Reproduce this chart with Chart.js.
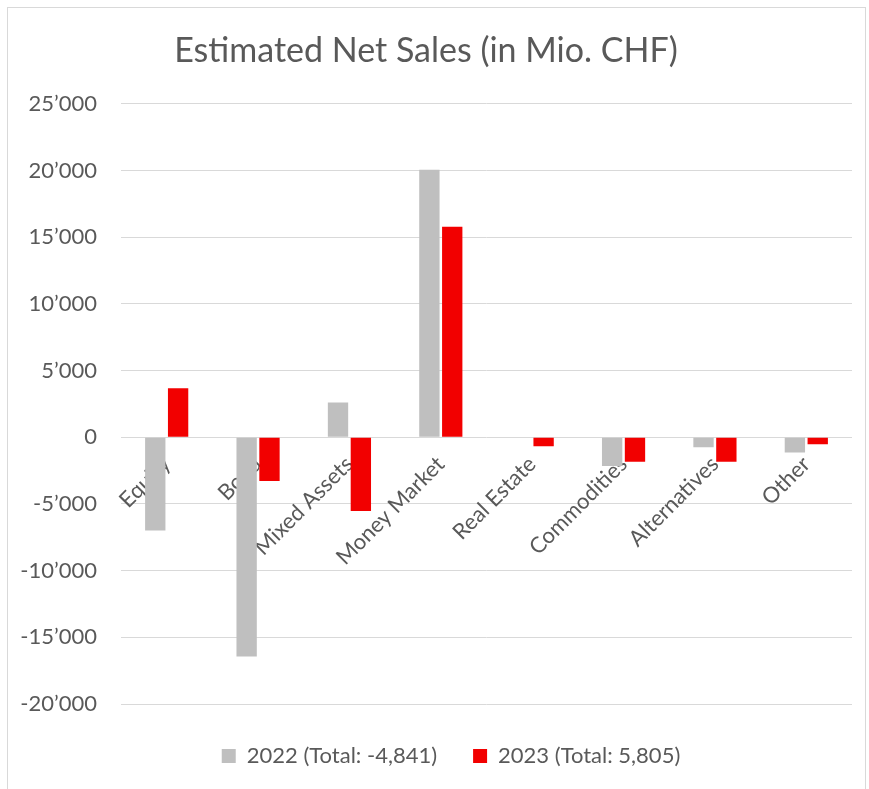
<!DOCTYPE html>
<html>
<head>
<meta charset="utf-8">
<script src="https://cdn.jsdelivr.net/npm/chart.js@4.4.0/dist/chart.umd.min.js"></script>
<style>
  html, body { margin: 0; padding: 0; background: #fff; }
  #wrap { width: 869px; height: 789px; }
</style>
</head>
<body>
<div id="wrap"><canvas id="salesChart" width="869" height="789"></canvas></div>
<script>
const categories = ['Equity', 'Bond', 'Mixed Assets', 'Money Market', 'Real Estate', 'Commodities', 'Alternatives', 'Other'];
const sales2022 = [-7000, -16440, 2600, 20050, 0, -2150, -750, -1150];
const sales2023 = [3680, -3280, -5530, 15790, -675, -1830, -1830, -525];
const seriesLabels = ['2022 (Total: -4,841)', '2023 (Total: 5,805)'];
const yTicks = [-20000, -15000, -10000, -5000, 0, 5000, 10000, 15000, 20000, 25000];

const textColor = '#595959';
const fontFamily = 'Lato, "Open Sans", sans-serif';

// swiss style thousands separator: 25’000
function fmt(v) {
  const s = Math.abs(v).toString().replace(/\B(?=(\d{3})+(?!\d))/g, '\u2019');
  return (v < 0 ? '-' : '') + s;
}

const frame = {
  id: 'frame',
  afterLayout(chart) {
    // nudge the legend to where excel puts it
    const lg = chart.legend;
    lg.left += 25;
    lg.right += 25;
    lg.top += 5;
    lg.bottom += 5;
  },
  beforeDraw(chart) {
    const ctx = chart.ctx;
    ctx.save();
    ctx.fillStyle = '#fff';
    ctx.fillRect(0, 0, chart.width, chart.height);
    ctx.strokeStyle = '#d9d9d9';
    ctx.lineWidth = 1;
    ctx.strokeRect(7.5, 7.5, 858, 800);
    ctx.restore();
  }
};

const ctx = document.getElementById('salesChart').getContext('2d');
new Chart(ctx, {
  type: 'bar',
  data: {
    labels: categories,
    datasets: [
      { label: seriesLabels[0], data: sales2022, backgroundColor: '#bfbfbf' },
      { label: seriesLabels[1], data: sales2023, backgroundColor: '#f20000' }
    ]
  },
  options: {
    responsive: false,
    animation: false,
    categoryPercentage: 0.5,
    barPercentage: 0.89,
    layout: { padding: { left: 0, right: 17, top: 0, bottom: 17 } },
    plugins: {
      title: {
        display: true,
        text: 'Estimated Net Sales (in Mio. CHF)',
        color: textColor,
        font: { family: fontFamily, size: 34, weight: 'normal' },
        padding: { top: 31, bottom: 32 }
      },
      legend: {
        position: 'bottom',
        labels: {
          color: textColor,
          font: { family: fontFamily, size: 22 },
          boxWidth: 14,
          boxHeight: 14,
          padding: 36
        }
      },
      tooltip: { enabled: false }
    },
    scales: {
      x: {
        position: { y: 0 },
        grid: { display: false },
        border: { display: false },
        ticks: {
          color: textColor,
          font: { family: fontFamily, size: 22 },
          minRotation: 45,
          maxRotation: 45,
          autoSkip: false,
          padding: 6
        }
      },
      y: {
        min: -20000,
        max: 25000,
        afterFit(scale) { scale.width = 121; },
        afterBuildTicks(scale) { scale.ticks = yTicks.map(v => ({ value: v })); },
        border: { display: false },
        grid: { color: '#d9d9d9', drawTicks: false, tickLength: 0 },
        ticks: {
          color: textColor,
          font: { family: fontFamily, size: 22 },
          padding: 24,
          callback: v => fmt(v)
        }
      }
    }
  },
  plugins: [frame]
});
</script>
</body>
</html>
